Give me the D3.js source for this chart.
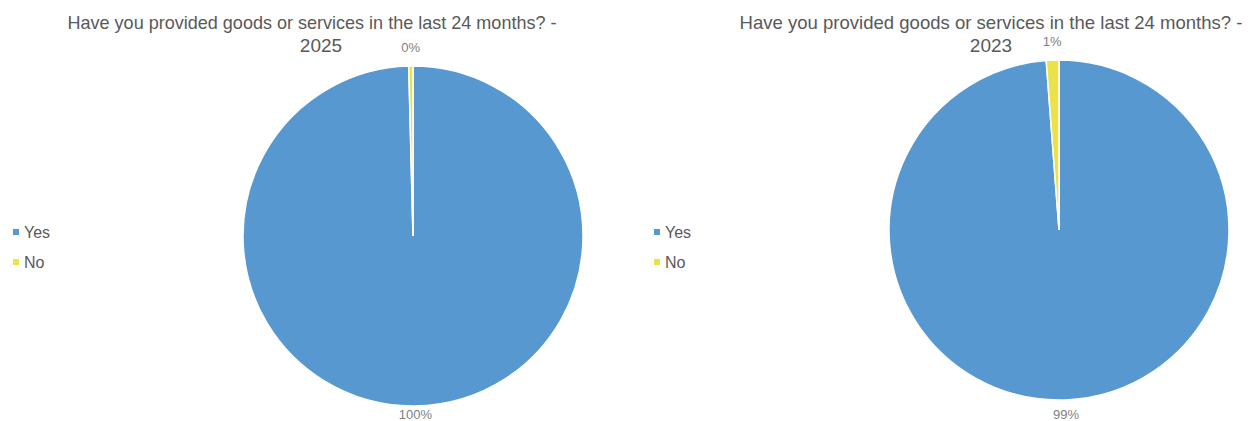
<!DOCTYPE html>
<html>
<head>
<meta charset="utf-8">
<script src="https://cdn.jsdelivr.net/npm/d3@7"></script>
<style>
  html, body { margin: 0; padding: 0; background: #fff; }
  svg { display: block; font-family: "Liberation Sans", Arial, sans-serif; }
</style>
</head>
<body>
<svg id="chart" width="1253" height="421"></svg>
<script>
// Survey answers, percent of respondents
const categories = ["Yes", "No"];
const values2025 = [99.6, 0.4];
const values2023 = [98.8, 1.2];
const titleLine = "Have you provided goods or services in the last 24 months? -";
const years = ["2025", "2023"];

const colors = d3.scaleOrdinal().domain(categories).range(["#5898d0", "#ebe24a"]);

const svg = d3.select("#chart");

const panels = [
  { values: values2025, year: years[0], cx: 413, cy: 236, r: 170, titleX: 312, titleW: 489, yearX: 321, legendX: 13, lowShift: -5 },
  { values: values2023, year: years[1], cx: 1059, cy: 230, r: 170, titleX: 991, titleW: 503, yearX: 991, legendX: 654, lowShift: 1 }
];

const pie = d3.pie().sort(null).value(d => d.value);

panels.forEach(p => {
  const g = svg.append("g");
  const data = categories.map((c, i) => ({ name: c, value: p.values[i] }));
  const arcs = pie(data);
  const arc = d3.arc().innerRadius(0).outerRadius(p.r);

  // title
  g.append("text")
    .attr("x", p.titleX).attr("y", 29)
    .attr("text-anchor", "middle")
    .attr("font-size", 19).attr("fill", "#595959")
    .attr("textLength", p.titleW).attr("lengthAdjust", "spacingAndGlyphs")
    .text(titleLine);
  g.append("text")
    .attr("x", p.yearX).attr("y", 52)
    .attr("text-anchor", "middle")
    .attr("font-size", 19).attr("fill", "#595959")
    .text(p.year);

  // slices
  const pg = g.append("g").attr("transform", `translate(${p.cx},${p.cy})`);
  pg.selectAll("path").data(arcs).join("path")
    .attr("d", arc)
    .attr("fill", d => colors(d.data.name))
    .attr("stroke", "#fff").attr("stroke-width", 1.5);

  // outside-end data labels
  pg.selectAll("text.lbl").data(arcs).join("text")
    .attr("class", "lbl")
    .attr("x", d => { const a = (d.startAngle + d.endAngle) / 2; return Math.sin(a) * (p.r + 14); })
    .attr("y", d => {
      const a = (d.startAngle + d.endAngle) / 2;
      const c = Math.cos(a);
      return -c * (p.r + 14) + (c < 0 ? p.lowShift : -5);
    })
    .attr("text-anchor", "middle").attr("dominant-baseline", "central")
    .attr("font-size", 13).attr("fill", "#7f7f7f")
    .text(d => Math.round(d.data.value) + "%");

  // legend
  const lg = g.append("g").attr("transform", `translate(${p.legendX},232)`);
  const items = lg.selectAll("g").data(categories).join("g")
    .attr("transform", (d, i) => `translate(0,${i * 30})`);
  items.append("rect").attr("x", 0).attr("y", -3).attr("width", 6).attr("height", 6)
    .attr("fill", d => colors(d));
  items.append("text").attr("x", 11).attr("y", 0)
    .attr("dominant-baseline", "central")
    .attr("font-size", 16).attr("fill", "#595959")
    .text(d => d);
});
</script>
</body>
</html>
